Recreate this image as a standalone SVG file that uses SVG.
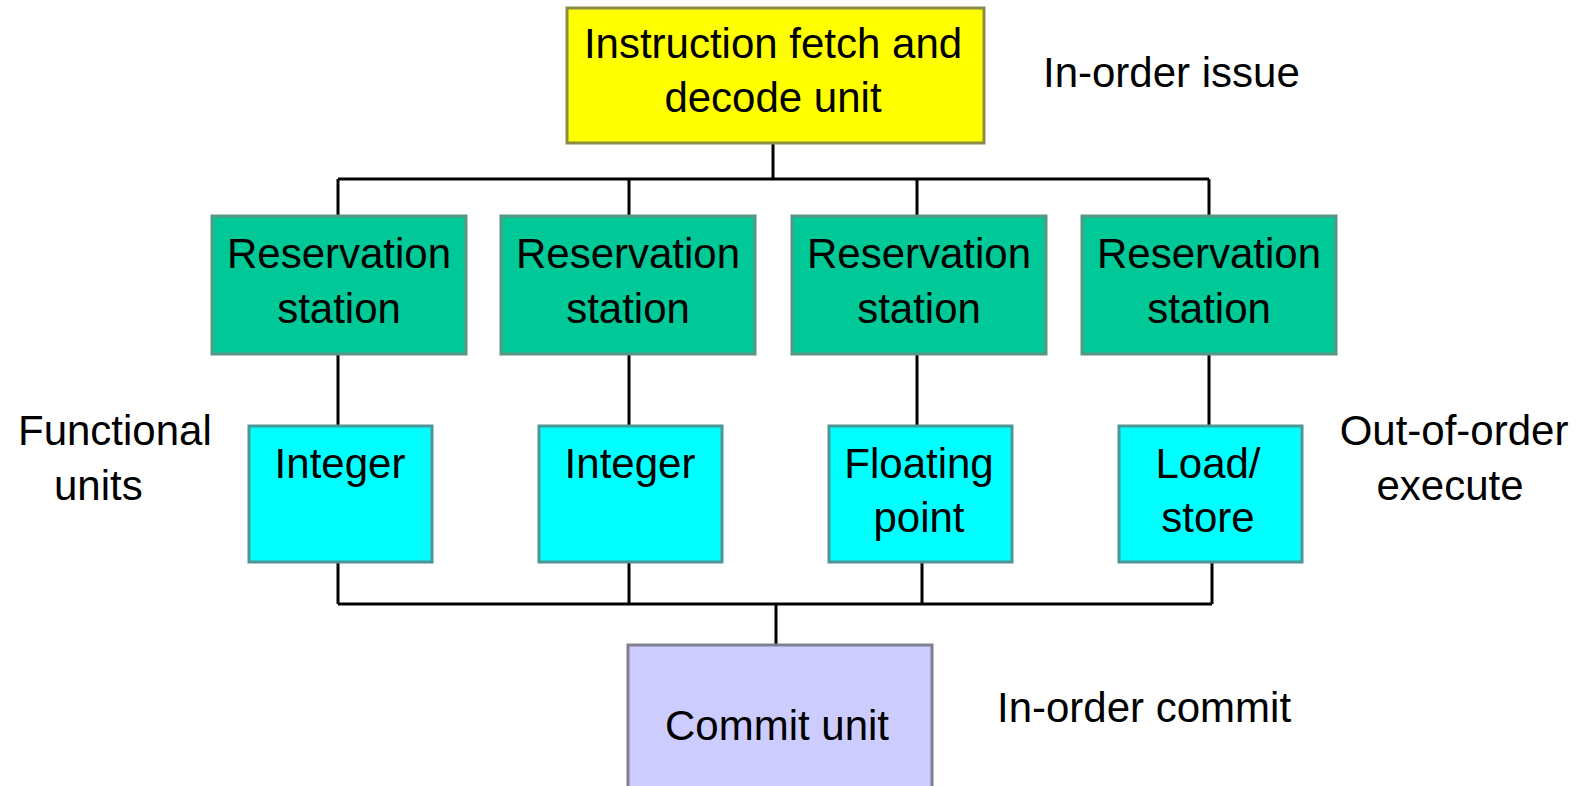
<svg xmlns="http://www.w3.org/2000/svg" width="1578" height="786" viewBox="0 0 1578 786">
<style>
text{font-family:"Liberation Sans",Arial,sans-serif;font-size:42px;fill:#000}
.c{text-anchor:middle}
.rs{fill:#00C896;stroke:#5A9686;stroke-width:3}
.fu{fill:#00FFFF;stroke:#4E9696;stroke-width:3}
.ln{stroke:#000;stroke-width:3;fill:none}
</style>
<rect width="1578" height="786" fill="#fff"/>
<g id="connectors">
<path class="ln" d="M773 144V179M338 179H1209M338 179V216M629 179V216M917 179V216M1209 179V216"/>
<path class="ln" d="M338 354V426M629 354V426M917 354V426M1209 354V426"/>
<path class="ln" d="M338 562V604M629 562V604M922 562V604M1212 562V604M338 604H1212M776 604V645"/>
</g>
<g id="fetch">
<rect x="567" y="8" width="417" height="135" fill="#FFFF00" stroke="#8C8C46" stroke-width="3"/>
<text class="c" x="773" y="58">Instruction fetch and</text>
<text class="c" x="773" y="112">decode unit</text>
</g>
<g id="rs1"><rect class="rs" x="212" y="216" width="254" height="138"/><text class="c" x="339" y="268">Reservation</text><text class="c" x="339" y="323">station</text></g>
<g id="rs2"><rect class="rs" x="501" y="216" width="254" height="138"/><text class="c" x="628" y="268">Reservation</text><text class="c" x="628" y="323">station</text></g>
<g id="rs3"><rect class="rs" x="792" y="216" width="254" height="138"/><text class="c" x="919" y="268">Reservation</text><text class="c" x="919" y="323">station</text></g>
<g id="rs4"><rect class="rs" x="1082" y="216" width="254" height="138"/><text class="c" x="1209" y="268">Reservation</text><text class="c" x="1209" y="323">station</text></g>
<g id="fu1"><rect class="fu" x="249" y="426" width="183" height="136"/><text class="c" x="340" y="478">Integer</text></g>
<g id="fu2"><rect class="fu" x="539" y="426" width="183" height="136"/><text class="c" x="630" y="478">Integer</text></g>
<g id="fu3"><rect class="fu" x="829" y="426" width="183" height="136"/><text class="c" x="919" y="478">Floating</text><text class="c" x="919" y="532">point</text></g>
<g id="fu4"><rect class="fu" x="1119" y="426" width="183" height="136"/><text class="c" x="1208" y="478">Load/</text><text class="c" x="1208" y="532">store</text></g>
<g id="commit">
<rect x="628" y="645" width="304" height="150" fill="#CCCCFF" stroke="#80808F" stroke-width="3"/>
<text class="c" x="777" y="740">Commit unit</text>
</g>
<g id="labels">
<text x="1043" y="87">In-order issue</text>
<text x="18" y="445">Functional</text>
<text x="54" y="500">units</text>
<text class="c" x="1454" y="445">Out-of-order</text>
<text class="c" x="1450" y="500">execute</text>
<text x="997" y="722">In-order commit</text>
</g>
</svg>
